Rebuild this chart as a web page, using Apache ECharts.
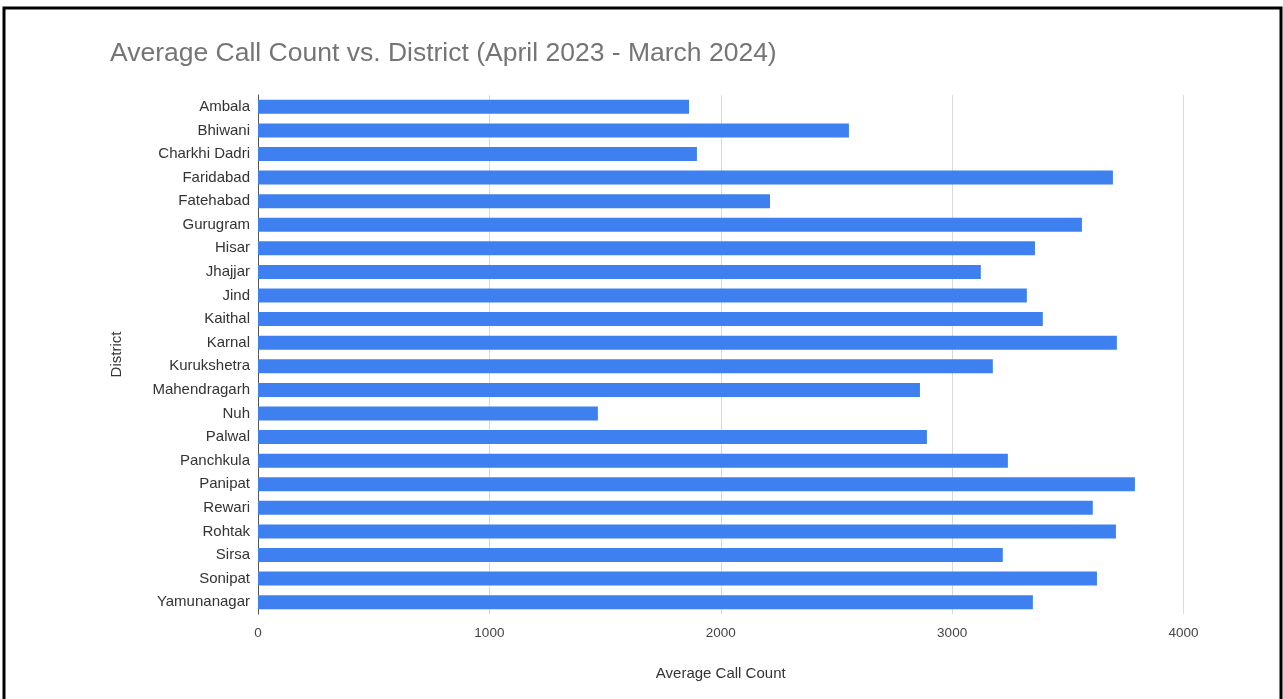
<!DOCTYPE html>
<html>
<head>
<meta charset="utf-8">
<script src="https://cdn.jsdelivr.net/npm/echarts@6/dist/echarts.min.js"></script>
<style>
  html, body { margin: 0; padding: 0; background: #fff; }
  #chart { width: 1283px; height: 699px; }
</style>
</head>
<body>
<div id="chart"></div>
<script>
// Districts, top to bottom as shown
const districts = [
  'Ambala', 'Bhiwani', 'Charkhi Dadri', 'Faridabad', 'Fatehabad', 'Gurugram',
  'Hisar', 'Jhajjar', 'Jind', 'Kaithal', 'Karnal', 'Kurukshetra', 'Mahendragarh',
  'Nuh', 'Palwal', 'Panchkula', 'Panipat', 'Rewari', 'Rohtak', 'Sirsa',
  'Sonipat', 'Yamunanagar'
];

// Average call count per district
const avgCalls = [
  1863, 2554, 1897, 3695, 2213, 3561,
  3358, 3124, 3323, 3392, 3712, 3176, 2861,
  1469, 2891, 3241, 3790, 3608, 3708, 3219,
  3626, 3349
];

const xTicks = { min: 0, max: 4000, interval: 1000 };

const chart = echarts.init(document.getElementById('chart'));

const font = 'Liberation Sans, Arial, sans-serif';

chart.setOption({
  backgroundColor: '#fff',
  textStyle: { fontFamily: font },
  title: {
    text: 'Average Call Count vs. District (April 2023 - March 2024)',
    left: 105,
    top: 35,
    textStyle: { color: '#757575', fontSize: 26.5, fontWeight: 'normal', fontFamily: font }
  },
  graphic: [
    {
      type: 'rect',
      shape: { x: 4, y: 8, width: 1277, height: 700 },
      style: { fill: 'none', stroke: '#000', lineWidth: 3 },
      silent: true
    }
  ],
  grid: { left: 258, right: 99.5, top: 95, bottom: 85 },
  xAxis: {
    type: 'value',
    min: xTicks.min,
    max: xTicks.max,
    interval: xTicks.interval,
    name: 'Average Call Count',
    nameLocation: 'middle',
    nameGap: 52,
    nameTextStyle: { color: '#333', fontSize: 15 },
    axisLine: { show: false },
    axisTick: { show: false },
    axisLabel: { color: '#444', fontSize: 13.5, margin: 12, formatter: (v) => String(v) },
    splitLine: { lineStyle: { color: '#d9d9d9', width: 1 } }
  },
  yAxis: {
    type: 'category',
    data: districts,
    inverse: true,
    name: 'District',
    nameLocation: 'middle',
    nameGap: 134,
    nameRotate: 90,
    nameTextStyle: { color: '#333', fontSize: 15 },
    axisLine: { show: true, lineStyle: { color: '#555', width: 1 } },
    axisTick: { show: false },
    axisLabel: { color: '#333', fontSize: 15, margin: 8 }
  },
  series: [
    {
      type: 'bar',
      data: avgCalls,
      barWidth: 14,
      itemStyle: { color: '#3f80f0' }
    }
  ]
});
</script>
</body>
</html>
